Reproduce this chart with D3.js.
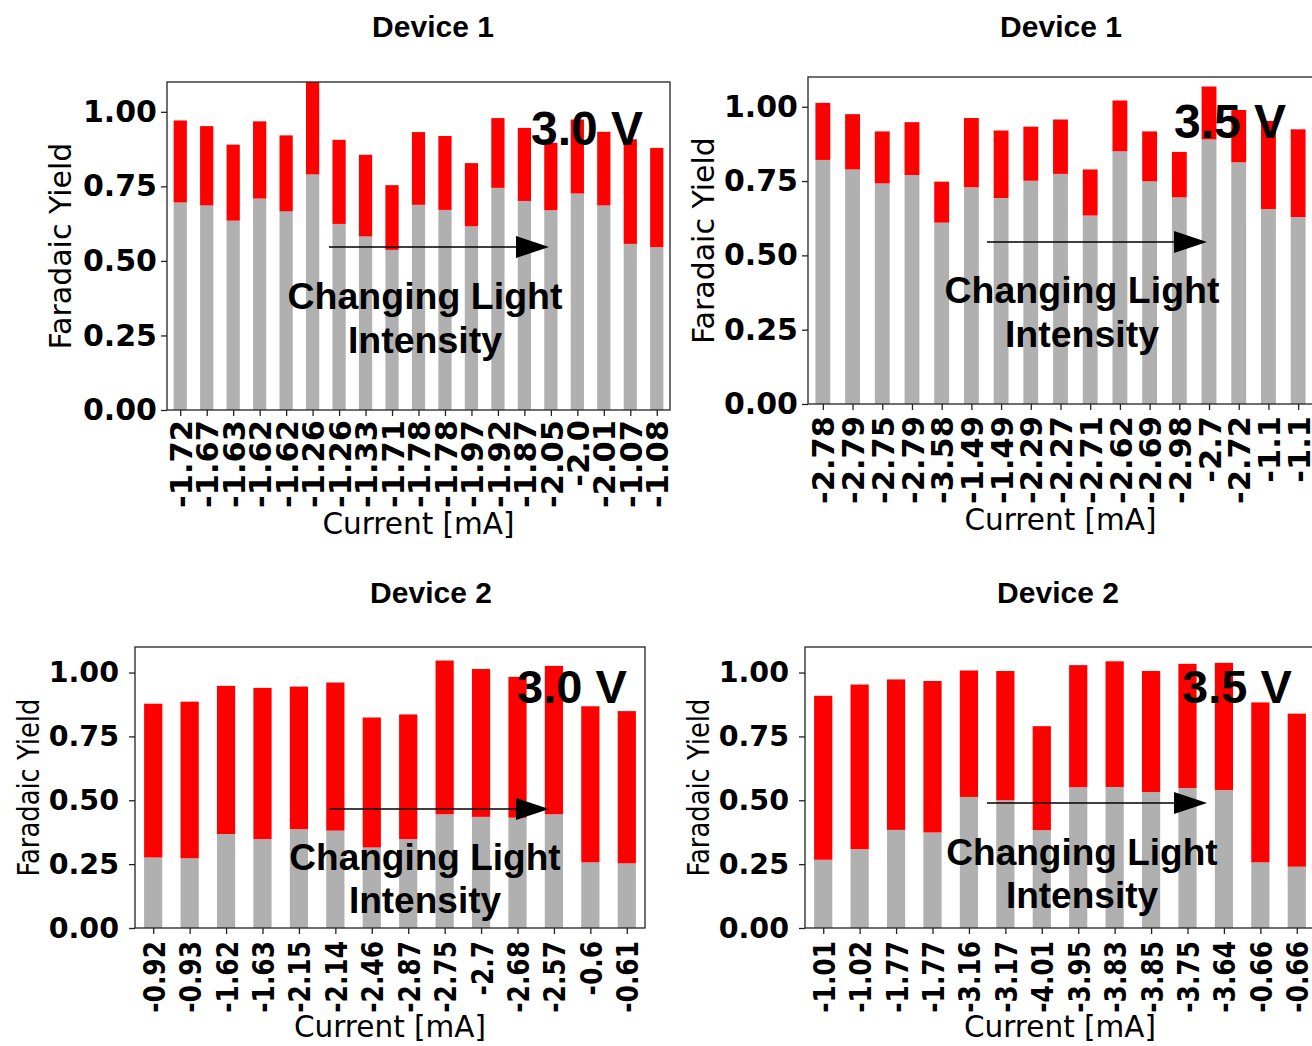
<!DOCTYPE html>
<html>
<head>
<meta charset="utf-8">
<script src="https://cdn.jsdelivr.net/npm/d3@7"></script>
<style>
  html, body { margin: 0; padding: 0; background: #fff; }
  svg { display: block; }
</style>
</head>
<body>
<svg id="fig" width="1312" height="1046"></svg>
<script>
// ---- Device 1, 3.0 V ----
const dev1At30Current = ["-1.72", "-1.67", "-1.63", "-1.62", "-1.62", "-1.26", "-1.26", "-1.33", "-1.71", "-1.78",
                         "-1.78", "-1.97", "-1.92", "-1.87", "-2.05", "-2.0", "-2.01", "-1.07", "-1.08"];
const dev1At30Gray = [0.696, 0.686, 0.635, 0.709, 0.666, 0.790, 0.624, 0.582, 0.537, 0.688,
                      0.671, 0.616, 0.745, 0.701, 0.670, 0.726, 0.686, 0.557, 0.546];
const dev1At30Red  = [0.275, 0.266, 0.255, 0.259, 0.255, 0.340, 0.282, 0.274, 0.217, 0.244,
                      0.248, 0.212, 0.234, 0.245, 0.226, 0.248, 0.247, 0.351, 0.333];

// ---- Device 1, 3.5 V ----
const dev1At35Current = ["-2.78", "-2.79", "-2.75", "-2.79", "-3.58", "-1.49", "-1.49", "-2.29", "-2.27", "-2.71",
                         "-2.62", "-2.69", "-2.98", "-2.7", "-2.72", "-1.1", "-1.1"];
const dev1At35Gray = [0.821, 0.789, 0.742, 0.770, 0.610, 0.729, 0.693, 0.751, 0.774, 0.634,
                      0.850, 0.749, 0.695, 0.890, 0.813, 0.656, 0.629];
const dev1At35Red  = [0.192, 0.186, 0.175, 0.178, 0.138, 0.233, 0.227, 0.182, 0.183, 0.155,
                      0.171, 0.168, 0.153, 0.178, 0.176, 0.296, 0.295];

// ---- Device 2, 3.0 V ----
const dev2At30Current = ["-0.92", "-0.93", "-1.62", "-1.63", "-2.15", "-2.14", "-2.46", "-2.87", "-2.75", "-2.7",
                         "-2.68", "-2.57", "-0.6", "-0.61"];
const dev2At30Gray = [0.276, 0.273, 0.368, 0.348, 0.387, 0.381, 0.315, 0.348, 0.445, 0.435,
                      0.432, 0.445, 0.257, 0.253];
const dev2At30Red  = [0.602, 0.613, 0.580, 0.592, 0.558, 0.580, 0.509, 0.488, 0.602, 0.579,
                      0.551, 0.581, 0.611, 0.596];

// ---- Device 2, 3.5 V ----
const dev2At35Current = ["-1.01", "-1.02", "-1.77", "-1.77", "-3.16", "-3.17", "-4.01", "-3.95", "-3.83", "-3.85",
                         "-3.75", "-3.64", "-0.66", "-0.66"];
const dev2At35Gray = [0.267, 0.309, 0.384, 0.374, 0.513, 0.500, 0.383, 0.551, 0.552, 0.532,
                      0.548, 0.540, 0.257, 0.240];
const dev2At35Red  = [0.642, 0.644, 0.589, 0.593, 0.495, 0.506, 0.407, 0.478, 0.492, 0.474,
                      0.486, 0.498, 0.626, 0.599];

const yTickValues = [0, 0.25, 0.5, 0.75, 1.0];
const yMax = 1.1;

const GRAY = "#b0b0b0";
const RED = "#ff0000";
const TICK_FONT = "'DejaVu Sans', sans-serif";
const ARIAL = "'Liberation Sans', Arial, sans-serif";

const svg = d3.select("#fig");

// Subplot geometry and annotation placement
const panels = [
  { id: "p1", title: "Device 1", voltage: "3.0 V",
    current: dev1At30Current, gray: dev1At30Gray, red: dev1At30Red,
    left: 167, right: 670, top: 82, bottom: 410,
    titleX: 433, titleY: 37,
    yTickFont: 30, yTickPad: 4, xTickFont: 30.5, xTickStretch: 1, xTickGap: 10,
    yLabelX: 71, yLabelStretch: 1, xLabelY: 534,
    voltX: 531, voltY: 145, voltFont: 48,
    arrow: { x1: 329, x2: 549, y: 247 },
    noteX: 425, noteY1: 309, noteY2: 353, noteFont: 37.5 },
  { id: "p2", title: "Device 1", voltage: "3.5 V",
    current: dev1At35Current, gray: dev1At35Gray, red: dev1At35Red,
    left: 808, right: 1313, top: 77, bottom: 404,
    titleX: 1061, titleY: 37,
    yTickFont: 30, yTickPad: 4, xTickFont: 30.5, xTickStretch: 1, xTickGap: 12,
    yLabelX: 714, yLabelStretch: 1, xLabelY: 530,
    voltX: 1174, voltY: 138, voltFont: 48,
    arrow: { x1: 987, x2: 1207, y: 242 },
    noteX: 1082, noteY1: 303, noteY2: 347, noteFont: 37.5 },
  { id: "p3", title: "Device 2", voltage: "3.0 V",
    current: dev2At30Current, gray: dev2At30Gray, red: dev2At30Red,
    left: 135, right: 645, top: 647, bottom: 928,
    titleX: 431, titleY: 603,
    yTickFont: 28.5, yTickPad: 10, xTickFont: 30, xTickStretch: 0.83, xTickGap: 13,
    yLabelX: 39, yLabelStretch: 0.86, xLabelY: 1037,
    voltX: 517, voltY: 703, voltFont: 47,
    arrow: { x1: 329, x2: 549, y: 809 },
    noteX: 425, noteY1: 870, noteY2: 913, noteFont: 37 },
  { id: "p4", title: "Device 2", voltage: "3.5 V",
    current: dev2At35Current, gray: dev2At35Gray, red: dev2At35Red,
    left: 805, right: 1315, top: 647, bottom: 928,
    titleX: 1058, titleY: 603,
    yTickFont: 28.5, yTickPad: 10, xTickFont: 30, xTickStretch: 0.83, xTickGap: 13,
    yLabelX: 709, yLabelStretch: 0.86, xLabelY: 1037,
    voltX: 1182, voltY: 703, voltFont: 47,
    arrow: { x1: 987, x2: 1207, y: 803 },
    noteX: 1082, noteY1: 865, noteY2: 908, noteFont: 37 }
];

function drawPanel(p) {
  const n = p.current.length;
  const x = d3.scaleLinear().domain([-0.5, n - 0.5]).range([p.left, p.right]);
  const y = d3.scaleLinear().domain([0, yMax]).range([p.bottom, p.top]);
  const halfW = 0.25;
  const g = svg.append("g").attr("id", p.id);

  g.append("clipPath").attr("id", p.id + "-clip")
    .append("rect")
    .attr("x", p.left).attr("y", p.top)
    .attr("width", p.right - p.left).attr("height", p.bottom - p.top);

  const bars = g.append("g").attr("clip-path", `url(#${p.id}-clip)`);

  bars.selectAll("rect.lower").data(p.gray).join("rect")
    .attr("class", "lower")
    .attr("x", (d, i) => x(i - halfW))
    .attr("width", (d, i) => x(i + halfW) - x(i - halfW))
    .attr("y", d => y(d))
    .attr("height", d => y(0) - y(d))
    .attr("fill", GRAY);

  bars.selectAll("rect.upper").data(p.red).join("rect")
    .attr("class", "upper")
    .attr("x", (d, i) => x(i - halfW))
    .attr("width", (d, i) => x(i + halfW) - x(i - halfW))
    .attr("y", (d, i) => y(p.gray[i] + d))
    .attr("height", (d, i) => y(p.gray[i]) - y(p.gray[i] + d))
    .attr("fill", RED);

  // y axis
  const yAxis = g.append("g")
    .attr("transform", `translate(${p.left},0)`)
    .call(d3.axisLeft(y).tickValues(yTickValues).tickFormat(d3.format(".2f")).tickSize(6).tickPadding(p.yTickPad));
  yAxis.select(".domain").remove();
  yAxis.selectAll(".tick line").attr("stroke", "#222").attr("stroke-width", 1.3);
  yAxis.selectAll(".tick text")
    .attr("fill", "#000")
    .style("font-family", TICK_FONT).style("font-weight", "bold")
    .style("font-size", p.yTickFont + "px");

  // x axis with vertical current labels
  const xAxis = g.append("g")
    .attr("transform", `translate(0,${p.bottom})`)
    .call(d3.axisBottom(x).tickValues(d3.range(n)).tickFormat(i => p.current[i]).tickSize(6));
  xAxis.select(".domain").remove();
  xAxis.selectAll(".tick line").attr("stroke", "#222").attr("stroke-width", 1.3);
  xAxis.selectAll(".tick text")
    .attr("fill", "#000")
    .attr("y", null).attr("x", null).attr("dy", null)
    .attr("text-anchor", "end")
    .attr("transform", `translate(0,${p.xTickGap}) rotate(-90) scale(${p.xTickStretch},1) translate(0,${0.365 * p.xTickFont})`)
    .style("font-family", TICK_FONT).style("font-weight", "bold")
    .style("font-size", p.xTickFont + "px");

  // frame
  g.append("rect")
    .attr("x", p.left).attr("y", p.top)
    .attr("width", p.right - p.left).attr("height", p.bottom - p.top)
    .attr("fill", "none").attr("stroke", "#222").attr("stroke-width", 1.3);

  // axis titles
  g.append("text")
    .attr("transform", `translate(${p.yLabelX},${(p.top + p.bottom) / 2}) rotate(-90) scale(${p.yLabelStretch},1)`)
    .attr("text-anchor", "middle")
    .style("font-family", TICK_FONT).style("font-size", "30px")
    .text("Faradaic Yield");

  g.append("text")
    .attr("x", (p.left + p.right) / 2).attr("y", p.xLabelY)
    .attr("text-anchor", "middle")
    .style("font-family", TICK_FONT).style("font-size", "29.5px")
    .text("Current [mA]");

  // subplot title
  g.append("text")
    .attr("x", p.titleX).attr("y", p.titleY)
    .attr("text-anchor", "middle")
    .style("font-family", ARIAL).style("font-weight", "bold").style("font-size", "30px")
    .text(p.title);

  // arrow for the light-intensity sweep
  const a = p.arrow;
  const headLen = 33, headHalf = 11;
  g.append("line")
    .attr("x1", a.x1).attr("y1", a.y).attr("x2", a.x2 - headLen + 2).attr("y2", a.y)
    .attr("stroke", "#000").attr("stroke-width", 1.5);
  g.append("path")
    .attr("d", `M${a.x2},${a.y} L${a.x2 - headLen},${a.y - headHalf} L${a.x2 - headLen},${a.y + headHalf} Z`)
    .attr("fill", "#000");

  const note = g.append("text")
    .attr("text-anchor", "middle")
    .style("font-family", ARIAL).style("font-weight", "bold").style("font-size", p.noteFont + "px");
  note.append("tspan").attr("x", p.noteX).attr("y", p.noteY1).text("Changing Light");
  note.append("tspan").attr("x", p.noteX).attr("y", p.noteY2).text("Intensity");

  g.append("text")
    .attr("x", p.voltX).attr("y", p.voltY)
    .style("font-family", ARIAL).style("font-weight", "bold").style("font-size", p.voltFont + "px")
    .text(p.voltage);
}

panels.forEach(drawPanel);
</script>
</body>
</html>
